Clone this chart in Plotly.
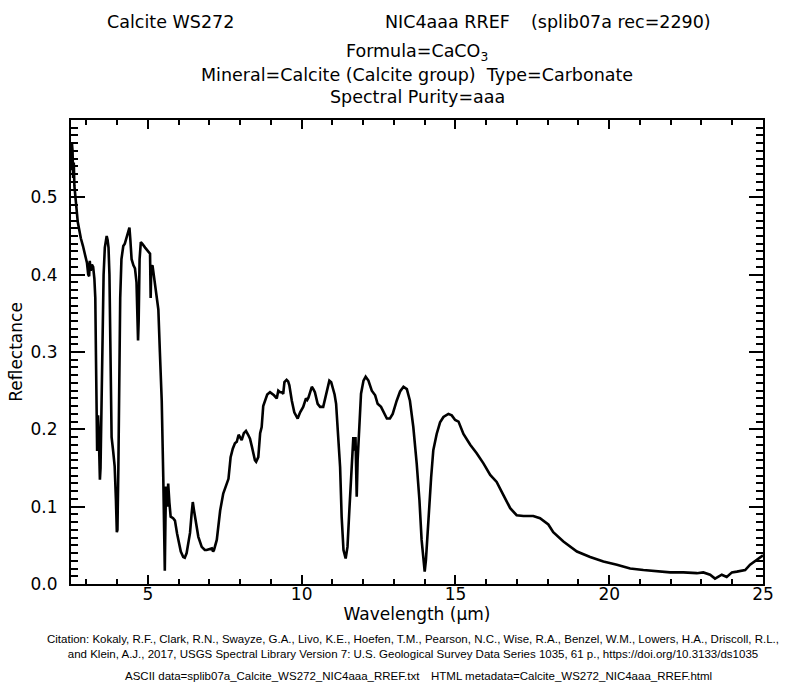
import plotly.graph_objects as go

wavelength = [
    2.50, 2.51, 2.52, 2.53, 2.54, 2.55, 2.57, 2.59, 2.61, 2.64, 2.68, 2.72, 2.76, 2.82, 2.89, 2.96,
    3.02, 3.06, 3.09, 3.11, 3.14, 3.18, 3.22, 3.26, 3.29, 3.31, 3.33, 3.35, 3.37, 3.38, 3.40, 3.42,
    3.44, 3.46, 3.50, 3.53, 3.56, 3.60, 3.63, 3.66, 3.69, 3.72, 3.75, 3.77, 3.79, 3.82, 3.87, 3.92,
    3.96, 3.99, 4.01, 4.04, 4.07, 4.10, 4.14, 4.20, 4.25, 4.31, 4.36, 4.40, 4.43, 4.47, 4.53, 4.58,
    4.63, 4.66, 4.68, 4.70, 4.73, 4.77, 4.82, 4.91, 5.01, 5.07, 5.09, 5.11, 5.15, 5.23, 5.29, 5.34,
    5.39, 5.45, 5.50, 5.53, 5.55, 5.57, 5.59, 5.63, 5.66, 5.70, 5.74, 5.82, 5.88, 5.95, 5.99, 6.07,
    6.15, 6.20, 6.26, 6.32, 6.37, 6.42, 6.46, 6.50, 6.53, 6.58, 6.64, 6.75, 6.85, 6.91, 7.00, 7.08,
    7.12, 7.15, 7.24, 7.35, 7.45, 7.55, 7.62, 7.69, 7.76, 7.83, 7.89, 7.95, 8.00, 8.05, 8.12, 8.19,
    8.26, 8.32, 8.38, 8.43, 8.48, 8.52, 8.59, 8.65, 8.70, 8.75, 8.81, 8.88, 8.97, 9.04, 9.10, 9.19,
    9.24, 9.30, 9.35, 9.40, 9.44, 9.51, 9.56, 9.60, 9.64, 9.68, 9.76, 9.82, 9.87, 9.95, 10.05, 10.14,
    10.18, 10.22, 10.28, 10.33, 10.38, 10.43, 10.52, 10.60, 10.70, 10.79, 10.85, 10.90, 10.96, 11.01,
    11.07, 11.12, 11.19, 11.25, 11.30, 11.36, 11.43, 11.49, 11.55, 11.63, 11.68, 11.71, 11.73, 11.75,
    11.77, 11.79, 11.82, 11.88, 11.93, 12.01, 12.08, 12.17, 12.28, 12.39, 12.47, 12.58, 12.68, 12.77,
    12.87, 12.96, 13.09, 13.20, 13.31, 13.42, 13.52, 13.63, 13.74, 13.83, 13.90, 13.96, 14.00, 14.04,
    14.12, 14.21, 14.28, 14.39, 14.50, 14.61, 14.77, 14.88, 14.99, 15.10, 15.26, 15.48, 15.69, 15.91,
    16.13, 16.34, 16.56, 16.78, 16.99, 17.21, 17.53, 17.75, 18.02, 18.18, 18.51, 18.95, 19.38, 19.81,
    20.25, 20.68, 21.11, 21.55, 21.98, 22.41, 22.85, 23.06, 23.28, 23.44, 23.55, 23.66, 23.82, 23.99,
    24.15, 24.42, 24.58, 24.80, 24.96, 25.00,
]

reflectance = [
    0.545, 0.565, 0.535, 0.570, 0.540, 0.560, 0.525, 0.545, 0.515, 0.505, 0.485, 0.468, 0.458, 0.447, 0.437, 0.425,
    0.415, 0.400, 0.398, 0.418, 0.405, 0.413, 0.410, 0.395, 0.370, 0.300, 0.215, 0.172, 0.205, 0.218, 0.200, 0.160,
    0.135, 0.150, 0.240, 0.330, 0.400, 0.435, 0.447, 0.450, 0.445, 0.435, 0.400, 0.340, 0.210, 0.190, 0.172, 0.152,
    0.110, 0.067, 0.070, 0.150, 0.260, 0.370, 0.420, 0.437, 0.440, 0.448, 0.455, 0.461, 0.445, 0.420, 0.412, 0.408,
    0.390, 0.330, 0.315, 0.340, 0.420, 0.442, 0.440, 0.435, 0.429, 0.427, 0.370, 0.410, 0.412, 0.390, 0.375, 0.355,
    0.300, 0.237, 0.138, 0.040, 0.017, 0.080, 0.126, 0.100, 0.130, 0.105, 0.087, 0.085, 0.082, 0.065, 0.057, 0.042,
    0.035, 0.034, 0.040, 0.052, 0.066, 0.090, 0.106, 0.095, 0.087, 0.072, 0.061, 0.048, 0.044, 0.044, 0.045, 0.046,
    0.042, 0.044, 0.057, 0.095, 0.117, 0.127, 0.136, 0.164, 0.175, 0.182, 0.184, 0.193, 0.190, 0.186, 0.195, 0.198,
    0.193, 0.188, 0.178, 0.168, 0.160, 0.158, 0.164, 0.195, 0.203, 0.230, 0.237, 0.245, 0.248, 0.246, 0.244, 0.240,
    0.250, 0.248, 0.248, 0.246, 0.261, 0.264, 0.262, 0.257, 0.245, 0.237, 0.222, 0.218, 0.214, 0.222, 0.229, 0.240,
    0.238, 0.241, 0.250, 0.255, 0.252, 0.248, 0.233, 0.229, 0.229, 0.246, 0.258, 0.263, 0.261, 0.255,
    0.245, 0.233, 0.194, 0.151, 0.087, 0.044, 0.033, 0.048, 0.095, 0.151, 0.190, 0.175, 0.173, 0.190,
    0.150, 0.113, 0.160, 0.216, 0.246, 0.263, 0.268, 0.263, 0.250, 0.244, 0.233, 0.229, 0.222, 0.214,
    0.214, 0.220, 0.237, 0.249, 0.255, 0.252, 0.237, 0.203, 0.156, 0.108, 0.057, 0.027, 0.016, 0.031,
    0.087, 0.138, 0.173, 0.194, 0.209, 0.216, 0.220, 0.218, 0.212, 0.210, 0.194, 0.180, 0.169, 0.156,
    0.141, 0.132, 0.115, 0.098, 0.089, 0.088, 0.088, 0.085, 0.077, 0.067, 0.055, 0.042, 0.035, 0.029,
    0.025, 0.020, 0.018, 0.016, 0.015, 0.015, 0.014, 0.015, 0.012, 0.007, 0.009, 0.012, 0.009, 0.015,
    0.016, 0.018, 0.025, 0.031, 0.036, 0.037,
]

x_tickvals = [5, 10, 15, 20, 25]
y_tickvals = [0.0, 0.1, 0.2, 0.3, 0.4, 0.5]
y_ticktext = ["0.0", "0.1", "0.2", "0.3", "0.4", "0.5"]

title_left = "Calcite WS272"
title_mid = "NIC4aaa RREF"
title_right = "(splib07a rec=2290)"
title_lines = [
    "Formula=CaCO<sub>3</sub>",
    "Mineral=Calcite (Calcite group)  Type=Carbonate",
    "Spectral Purity=aaa",
]
citation = ("Citation: Kokaly, R.F., Clark, R.N., Swayze, G.A., Livo, K.E., Hoefen, T.M., Pearson, N.C., Wise, R.A., Benzel, W.M., Lowers, H.A., Driscoll, R.L.,<br>"
            "and Klein, A.J., 2017, USGS Spectral Library Version 7: U.S. Geological Survey Data Series 1035, 61 p., https://doi.org/10.3133/ds1035")
files_left = "ASCII data=splib07a_Calcite_WS272_NIC4aaa_RREF.txt"
files_right = "HTML metadata=Calcite_WS272_NIC4aaa_RREF.html"

W, H = 790, 682
L, R, T, B = 71, 763, 120, 584
FONT = "DejaVu Sans"
SMALL = "Liberation Sans"


def px(xp):
    return (xp - L) / (R - L)


def py(yp):
    return (B - yp) / (B - T)


fig = go.Figure()
fig.add_trace(go.Scatter(x=wavelength, y=reflectance, mode="lines",
                         line=dict(color="black", width=2.6), showlegend=False))

axis_common = dict(showgrid=False, zeroline=False, showline=True, linecolor="black",
                   linewidth=2, mirror="allticks", ticks="inside", tickcolor="black",
                   tickwidth=1.5, tickfont=dict(family=FONT, size=17, color="black"))

fig.update_xaxes(range=[2.5, 25], tickvals=x_tickvals, ticklen=9, ticklabelstandoff=-6,
                 minor=dict(dtick=1, tick0=0, ticks="inside", ticklen=5, tickcolor="black", tickwidth=1.5),
                 title=dict(text="Wavelength (μm)", font=dict(family=FONT, size=17, color="black"), standoff=2),
                 **axis_common)
fig.update_yaxes(range=[0, 0.6], tickvals=y_tickvals, ticktext=y_ticktext, ticklen=14,
                 ticklabelstandoff=8,
                 minor=dict(dtick=0.01, tick0=0, ticks="inside", ticklen=7, tickcolor="black", tickwidth=1.5),
                 title=dict(text="Reflectance", font=dict(family=FONT, size=17, color="black"), standoff=4),
                 **axis_common)

ann = []
ann.append(dict(text=title_left, x=px(170), y=py(22), xanchor="center", yanchor="middle"))
ann.append(dict(text=title_mid, x=px(383), y=py(22), xanchor="left", yanchor="middle"))
ann.append(dict(text=title_right, x=px(713), y=py(22), xanchor="right", yanchor="middle"))
for t, yy in zip(title_lines, [52, 75, 97]):
    ann.append(dict(text=t, x=px(417), y=py(yy), xanchor="center", yanchor="middle"))
for a in ann:
    a.update(xref="paper", yref="paper", showarrow=False,
             font=dict(family=FONT, size=17.5, color="black"))
ann.append(dict(text=citation, x=px(413), y=py(646), xanchor="center", yanchor="middle",
                xref="paper", yref="paper", showarrow=False,
                font=dict(family=SMALL, size=11.5, color="black")))
ann.append(dict(text=files_left, x=px(123), y=py(676), xanchor="left", yanchor="middle",
                xref="paper", yref="paper", showarrow=False,
                font=dict(family=SMALL, size=11.5, color="black")))
ann.append(dict(text=files_right, x=px(714), y=py(676), xanchor="right", yanchor="middle",
                xref="paper", yref="paper", showarrow=False,
                font=dict(family=SMALL, size=11.5, color="black")))

fig.update_layout(width=W, height=H, margin=dict(l=L, r=W - R, t=T, b=H - B),
                  paper_bgcolor="white", plot_bgcolor="white", annotations=ann)

fig.write_html("out.html")
